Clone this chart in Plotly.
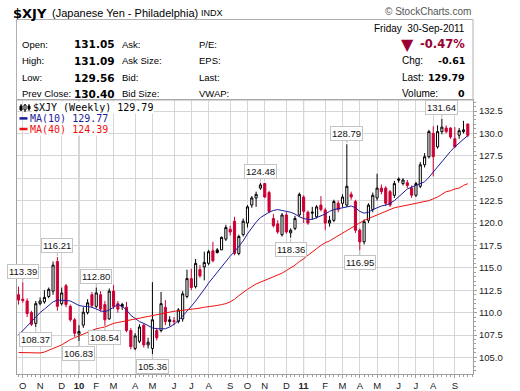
import plotly.graph_objects as go
import pandas as pd

# ---------------- data ----------------
dates = pd.date_range("2009-10-02", periods=105, freq="W-FRI")

opens = [112.0, 111.5, 111.3, 110.0, 108.8, 111.0, 111.2, 111.8, 112.4, 115.7,
         111.0, 113.0, 110.7, 109.2, 107.6, 108.6, 110.0, 112.0, 110.7, 112.0,
         110.9, 109.3, 112.4, 111.0, 110.9, 110.6, 108.0, 106.0, 106.8, 108.6,
         106.4, 106.0, 108.0, 108.0, 110.6, 109.0, 109.1, 109.0, 109.3, 111.8,
         113.8, 112.9, 114.8, 115.1, 115.5, 116.9, 117.0, 117.0, 118.2, 119.3,
         120.2, 116.6, 118.7, 120.0, 122.0, 122.8, 123.9, 124.4, 123.4, 120.5,
         119.9, 118.7, 120.9, 118.9, 119.4, 120.9, 122.9, 121.2, 121.1, 120.7,
         122.0, 121.45, 120.0, 120.3, 122.2, 122.2, 122.0, 123.2, 122.4, 119.2,
         117.9, 120.3, 121.5, 122.8, 123.9, 123.9, 123.5, 123.1, 124.9, 124.4,
         124.5, 123.9, 123.1, 124.1, 126.5, 127.4, 130.0, 128.5, 130.2, 130.6,
         130.6, 129.4, 129.8, 130.2, 131.05]
highs = [112.9, 113.39, 111.6, 110.2, 111.3, 111.7, 112.5, 112.8, 115.7, 116.21,
         112.8, 113.2, 110.9, 109.4, 108.6, 110.6, 111.5, 112.3, 112.8, 112.4,
         111.3, 112.7, 113.1, 111.3, 111.1, 111.2, 108.3, 107.7, 108.7, 108.8,
         107.2, 113.4, 108.3, 112.3, 111.4, 109.6, 109.5, 110.5, 112.4, 114.8,
         114.9, 116.0, 115.3, 116.8, 117.0, 117.9, 117.2, 118.5, 119.8, 119.7,
         120.7, 118.7, 120.5, 122.0, 123.0, 123.5, 124.48, 124.45, 123.6, 121.0,
         120.3, 121.1, 121.2, 119.4, 120.8, 123.4, 123.1, 121.4, 121.8, 122.0,
         123.0, 121.7, 120.8, 122.6, 122.5, 123.2, 128.79, 123.5, 122.6, 119.4,
         120.4, 122.2, 123.4, 125.5, 124.3, 124.1, 123.7, 124.7, 125.1, 125.0,
         124.8, 124.2, 124.6, 126.8, 127.8, 130.4, 130.8, 130.9, 131.64, 130.9,
         130.7, 130.7, 130.6, 131.4, 131.09]
lows = [110.9, 111.1, 109.5, 108.5, 108.37, 110.8, 111.0, 111.6, 112.0, 110.2,
        110.8, 110.6, 109.0, 107.3, 106.83, 108.3, 109.8, 110.5, 110.5, 110.1,
        108.54, 109.2, 110.4, 110.0, 110.3, 107.8, 105.9, 105.8, 106.6, 106.1,
        106.0, 105.36, 106.9, 107.8, 108.6, 108.5, 108.6, 108.8, 109.0, 111.6,
        112.5, 112.7, 113.9, 113.6, 115.3, 115.6, 116.6, 117.0, 118.0, 118.6,
        116.4, 116.4, 118.5, 119.5, 121.7, 121.8, 123.7, 122.8, 121.1, 119.5,
        118.8, 118.5, 118.8, 118.36, 119.2, 120.7, 120.0, 119.8, 120.4, 120.5,
        121.3, 119.2, 119.6, 120.1, 121.2, 121.8, 121.8, 122.6, 118.9, 116.95,
        117.6, 120.0, 121.2, 122.5, 123.2, 121.9, 121.8, 122.8, 124.5, 124.2,
        123.9, 122.8, 122.9, 123.9, 126.2, 127.2, 125.2, 128.3, 129.9, 130.0,
        129.4, 128.4, 129.4, 130.0, 129.56]
closes = [111.4, 111.35, 109.9, 108.7, 111.0, 111.3, 111.7, 112.6, 115.3, 110.7,
          112.2, 110.9, 109.2, 107.7, 107.9, 110.05, 111.1, 110.8, 112.2, 110.4,
          109.2, 112.4, 110.7, 110.4, 110.7, 108.0, 106.2, 107.4, 108.4, 106.4,
          106.7, 109.2, 107.2, 111.0, 109.0, 109.2, 109.0, 110.3, 112.1, 113.8,
          112.8, 115.5, 114.1, 115.6, 116.8, 115.8, 116.7, 118.4, 119.5, 119.0,
          116.6, 118.5, 120.2, 121.8, 122.8, 123.2, 124.25, 122.9, 121.3, 119.7,
          119.0, 120.9, 119.0, 119.2, 120.5, 123.2, 121.3, 120.0, 121.2, 121.8,
          121.5, 120.0, 120.3, 122.4, 121.5, 122.9, 124.1, 122.9, 119.2, 117.9,
          120.15, 122.0, 123.1, 123.9, 123.5, 122.2, 122.0, 124.4, 124.8, 124.8,
          124.2, 123.1, 124.4, 126.5, 127.4, 130.2, 127.4, 130.2, 130.7, 130.2,
          129.6, 128.5, 130.3, 130.40, 129.79]
ma10 = [107.5, 108.0, 108.6, 109.1, 109.6, 110.0, 110.4, 110.8, 111.2, 111.4,
        111.4, 111.35, 111.3, 111.0, 110.8, 110.7, 110.7, 110.6, 110.4, 110.2,
        110.1, 110.3, 110.6, 110.9, 110.7, 110.3, 109.7, 109.3, 109.0, 108.8,
        108.5, 108.3, 108.2, 108.2, 108.2, 108.4, 108.7, 109.1, 109.6, 110.1,
        110.7, 111.3, 111.9, 112.6, 113.3, 113.9, 114.6, 115.2, 115.8, 116.3,
        116.8, 117.4, 118.0, 118.8, 119.5, 120.1, 120.6, 120.9, 121.2, 121.4,
        121.5, 121.4, 121.3, 121.2, 121.0, 120.7, 120.5, 120.4, 120.4, 120.6,
        120.8, 121.0, 121.3, 121.5, 121.6, 121.7, 121.8, 121.9, 121.7, 121.3,
        121.1, 121.2, 121.5, 121.7, 121.9, 122.0, 122.2, 122.5, 122.9, 123.4,
        123.8, 124.0, 124.2, 124.4, 124.6, 125.1, 125.7, 126.3, 126.9, 127.5,
        128.0, 128.5, 128.9, 129.4, 129.77]
ma40 = [105.55, 105.55, 105.5, 105.5, 105.5, 105.5, 105.6, 105.8, 106.0, 106.2,
        106.4, 106.7, 107.0, 107.2, 107.4, 107.6, 107.8, 108.0, 108.2, 108.3,
        108.4, 108.6, 108.8, 108.9, 109.0, 109.1, 109.2, 109.3, 109.4, 109.5,
        109.6, 109.7, 109.8, 109.9, 110.0, 110.1, 110.15, 110.2, 110.25, 110.3,
        110.35, 110.4, 110.5, 110.6, 110.65, 110.7, 110.8, 110.9, 111.0, 111.2,
        111.5, 111.9, 112.3, 112.6, 112.9, 113.2, 113.4, 113.6, 113.8, 114.0,
        114.2, 114.4, 114.7, 115.0, 115.3, 115.7, 116.0, 116.4, 116.8, 117.2,
        117.5, 117.8, 118.0, 118.3, 118.6, 118.9, 119.2, 119.5, 119.8, 120.1,
        120.3, 120.5, 120.7, 120.9, 121.1, 121.3, 121.5, 121.7, 121.8, 121.9,
        122.0, 122.1, 122.2, 122.3, 122.4, 122.5, 122.7, 122.9, 123.2, 123.5,
        123.6, 123.8, 123.9, 124.2, 124.39]

tick_dates = ["2009-10-09", "2009-11-06", "2009-12-11", "2010-01-08", "2010-02-05",
              "2010-03-05", "2010-04-09", "2010-05-07", "2010-06-11", "2010-07-09",
              "2010-08-06", "2010-09-10", "2010-10-08", "2010-11-05", "2010-12-10",
              "2011-01-07", "2011-02-11", "2011-03-11", "2011-04-08", "2011-05-06",
              "2011-06-10", "2011-07-08", "2011-08-05", "2011-09-09"]
tick_labels = ["O", "N", "D", "<b>10</b>", "F", "M", "A", "M", "J", "J", "A", "S",
               "O", "N", "D", "<b>11</b>", "F", "M", "A", "M", "J", "J", "A", "S"]
year_lines = ["2010-01-08", "2011-01-07"]

# price labels: (candle index, "H" high / "L" low)
callouts = [(1, "H"), (9, "H"), (18, "H"), (4, "L"), (14, "L"), (20, "L"),
            (31, "L"), (56, "H"), (63, "L"), (76, "H"), (79, "L"), (98, "H")]

# ---------------- geometry helpers ----------------
W, H = 520, 391
ML, MR, MT, MB = 17, 47, 100, 17
PW, PH = W - ML - MR, H - MT - MB


def px(x):
    return (x - ML) / PW


def py(y):
    return (H - MB - y) / PH


RED = "#cc0033"
BLACK = "#000000"

# split candles by close vs previous close (StockCharts colouring)
prev = [None] + closes[:-1]
blk = [i for i in range(len(closes)) if prev[i] is not None and closes[i] >= prev[i]]
red = [i for i in range(len(closes)) if i not in blk]


def sub(lst, idx):
    return [lst[i] for i in idx]


fig = go.Figure()
for idx, col in ((red, RED), (blk, BLACK)):
    fig.add_trace(go.Candlestick(
        x=sub(list(dates), idx), open=sub(opens, idx), high=sub(highs, idx),
        low=sub(lows, idx), close=sub(closes, idx),
        increasing=dict(line=dict(color=col, width=1), fillcolor="white"),
        decreasing=dict(line=dict(color=col, width=1), fillcolor=col),
        whiskerwidth=0, showlegend=False, hoverinfo="skip"))

fig.add_trace(go.Scatter(x=dates, y=ma10, mode="lines",
                         line=dict(color="#1c1c9c", width=1), showlegend=False,
                         hoverinfo="skip"))
fig.add_trace(go.Scatter(x=dates, y=ma40, mode="lines",
                         line=dict(color="#ee1111", width=1), showlegend=False,
                         hoverinfo="skip"))

annotations = []
for i, kind in callouts:
    val = highs[i] if kind == "H" else lows[i]
    annotations.append(dict(
        x=dates[i], y=val, xref="x", yref="y", text=f"{val:.2f}",
        showarrow=True, arrowhead=0, arrowwidth=1, arrowcolor="#b8b8b8",
        ax=0, ay=-11 if kind == "H" else 12, standoff=1,
        font=dict(family="Liberation Sans", size=9.5, color="#111"),
        bgcolor="white", bordercolor="#c4c4c4", borderwidth=1, borderpad=1))


def txt(x, y, s, size=10, color="#000", anchor="left", family="Liberation Sans",
        bg=None):
    d = dict(x=px(x), y=py(y), xref="paper", yref="paper", text=s, showarrow=False,
             xanchor=anchor, yanchor="middle",
             font=dict(family=family, size=size, color=color))
    if bg:
        d.update(bgcolor=bg, borderpad=0)
    annotations.append(d)


# title
txt(11, 13, "<b>$XJY</b>", size=13, family="DejaVu Sans")
txt(50, 13, "(Japanese Yen - Philadelphia)", size=11)
txt(199, 13.5, "INDX", size=9)
txt(473, 12, "© StockCharts.com", size=10, color="#555", anchor="right")

# info table
rows = [44.3, 60.8, 77.6, 94.0]
left_lbl = ["Open:", "High:", "Low:", "Prev Close:"]
left_val = ["131.05", "131.09", "129.56", "130.40"]
mid_lbl = ["Ask:", "Ask Size:", "Bid:", "Bid Size:"]
r_lbl = ["P/E:", "EPS:", "Last:", "VWAP:"]
for y, a, b, c, d in zip(rows, left_lbl, left_val, mid_lbl, r_lbl):
    txt(20, y, a, size=9.5)
    txt(117, y, f"<b>{b}</b>", size=10.5, family="DejaVu Sans", anchor="right")
    txt(120, y, c, size=9.5)
    txt(197, y, d, size=9.5)

txt(467, 28.3, "Friday  30-Sep-2011", size=10, anchor="right")
txt(399, 44, "▼", size=16, color="#990033", family="DejaVu Sans")
txt(467, 44, "<b>-0.47%</b>", size=11.5, color="#990033", family="DejaVu Sans",
    anchor="right")
for y, a, b in zip(rows[1:], ["Chg:", "Last:", "Volume:"], ["-0.61", "129.79", "0"]):
    txt(400, y, a, size=10)
    txt(467, y, f"<b>{b}</b>", size=9.5, family="DejaVu Sans", anchor="right")

# chart legend
txt(31.5, 107.7, "$XJY (Weekly) 129.79", size=10, family="DejaVu Sans Mono", bg="white")
txt(29.3, 118.4, "MA(10) 129.77", size=10, color="#1c1c9c", family="DejaVu Sans Mono",
    bg="white")
txt(29.3, 129.0, "MA(40) 124.39", size=10, color="#ee1111", family="DejaVu Sans Mono",
    bg="white")

shapes = [
    dict(type="rect", xref="paper", yref="paper", x0=px(16.5), x1=px(473),
         y0=py(100), y1=py(19.5), line=dict(color="#b0b0b0", width=1)),
    dict(type="rect", xref="paper", yref="paper", x0=px(17), x1=px(155),
         y0=py(113), y1=py(101), fillcolor="white", line=dict(width=0), layer="below"),
    dict(type="line", xref="paper", yref="paper", x0=px(19.5), x1=px(27.5),
         y0=py(118.4), y1=py(118.4), line=dict(color="#1c1c9c", width=2.5)),
    dict(type="line", xref="paper", yref="paper", x0=px(19.5), x1=px(27.5),
         y0=py(129), y1=py(129), line=dict(color="#ee1111", width=2.5)),
    # tiny candle icon in legend
    dict(type="line", xref="paper", yref="paper", x0=px(21), x1=px(21),
         y0=py(111), y1=py(104), line=dict(color="#000", width=1)),
    dict(type="rect", xref="paper", yref="paper", x0=px(20), x1=px(22),
         y0=py(110), y1=py(106), fillcolor="#000", line=dict(color="#000", width=1)),
    dict(type="line", xref="paper", yref="paper", x0=px(25), x1=px(25),
         y0=py(112), y1=py(104), line=dict(color="#000", width=1)),
    dict(type="rect", xref="paper", yref="paper", x0=px(24), x1=px(26),
         y0=py(110), y1=py(105), fillcolor="white", line=dict(color="#000", width=1)),
    dict(type="line", xref="paper", yref="paper", x0=px(29), x1=px(29),
         y0=py(111), y1=py(104), line=dict(color="#000", width=1)),
    dict(type="rect", xref="paper", yref="paper", x0=px(28), x1=px(30),
         y0=py(109), y1=py(106), fillcolor="#000", line=dict(color="#000", width=1)),
]
for d in year_lines:
    shapes.append(dict(type="line", xref="x", yref="paper", x0=d, x1=d, y0=0, y1=1,
                       line=dict(color="#a8a8a8", width=1), layer="below"))

fig.update_layout(
    width=W, height=H, margin=dict(l=ML, r=MR, t=MT, b=MB, autoexpand=False),
    paper_bgcolor="white", plot_bgcolor="white",
    annotations=annotations, shapes=shapes,
    xaxis=dict(
        type="date", range=["2009-09-29 14:00", "2011-10-08 10:00"],
        tickmode="array", tickvals=tick_dates, ticktext=tick_labels,
        showgrid=True, gridcolor="#d6d6d6", gridwidth=1,
        showline=True, linecolor="#a0a0a0", linewidth=1, mirror=True,
        ticks="outside", ticklen=3, tickcolor="#a0a0a0",
        minor=dict(ticks="outside", ticklen=2, tickcolor="#a0a0a0",
                   dtick=7 * 24 * 3600 * 1000, tick0="2009-10-02", showgrid=False),
        tickfont=dict(family="Liberation Sans", size=9.5, color="#222"),
        rangeslider=dict(visible=False), zeroline=False, fixedrange=True,
        automargin=False),
    yaxis=dict(
        side="right", range=[103.15, 133.73], dtick=2.5, tick0=0,
        tickformat=".1f", showgrid=True, gridcolor="#d6d6d6", gridwidth=1,
        showline=True, linecolor="#a0a0a0", linewidth=1, mirror=True,
        ticks="outside", ticklen=3, tickcolor="#a0a0a0",
        minor=dict(ticks="outside", ticklen=2, tickcolor="#a0a0a0", dtick=0.5,
                   showgrid=False),
        tickfont=dict(family="Liberation Sans", size=9.5, color="#222"),
        zeroline=False, fixedrange=True, automargin=False),
    font=dict(family="Liberation Sans"),
)

fig.write_html("out.html", config={"displayModeBar": False},
               post_script="document.body.style.margin='0px';"
                           "document.body.style.overflow='hidden';")
